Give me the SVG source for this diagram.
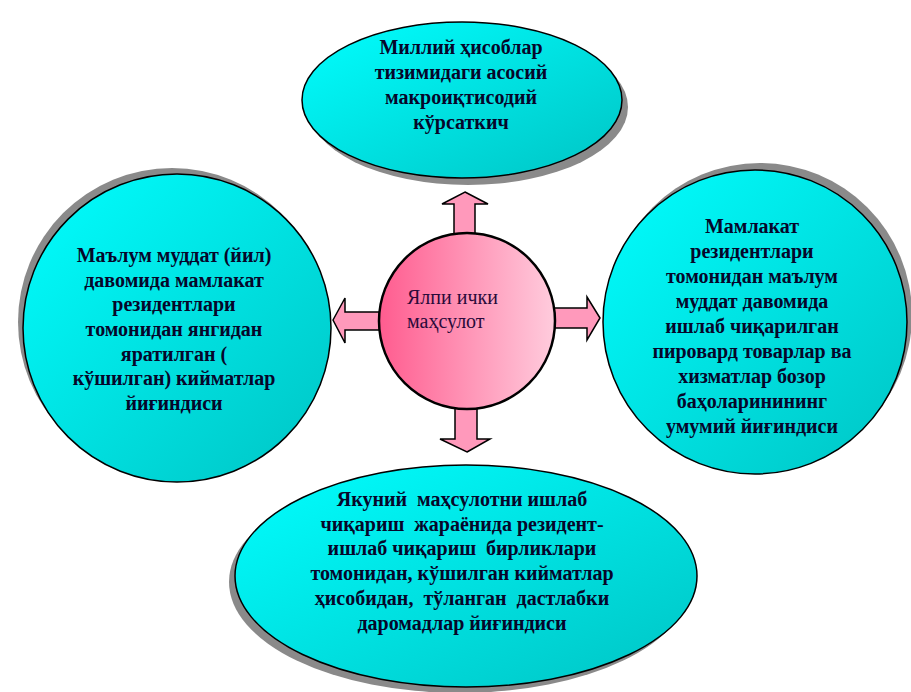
<svg xmlns="http://www.w3.org/2000/svg" width="911" height="692" viewBox="0 0 911 692">
<defs>
<linearGradient id="cyan" x1="0" y1="0" x2="1" y2="1">
<stop offset="0" stop-color="#00FFFF"/>
<stop offset="1" stop-color="#00C4C4"/>
</linearGradient>
<linearGradient id="pink" x1="0" y1="0" x2="1" y2="0">
<stop offset="0" stop-color="#FF5C8F"/>
<stop offset="1" stop-color="#FFCCDD"/>
</linearGradient>
</defs>
<style>
.sh{fill:#8a8a8a}
.node{fill:url(#cyan);stroke:#000;stroke-width:1.5}
.t{font-family:"Liberation Serif","Times New Roman",serif;font-weight:bold;font-size:20px;fill:#06062a;text-anchor:middle}
.c{font-family:"Liberation Serif","Times New Roman",serif;font-size:20px;fill:#2a0a3a}
.arr{fill:#FF99BB;stroke:#000;stroke-width:1.5;stroke-linejoin:miter}
</style>
<rect width="911" height="692" fill="#fff"/>

<g id="top">
<ellipse class="sh" cx="468" cy="107" rx="160" ry="78"/>
<ellipse class="node" cx="462" cy="100" rx="160" ry="78"/>
<text class="t" x="461" y="54">Миллий ҳисоблар</text>
<text class="t" x="461" y="79">тизимидаги асосий</text>
<text class="t" x="461" y="104">макроиқтисодий</text>
<text class="t" x="461" y="129">кўрсаткич</text>
</g>

<g id="left">
<circle class="sh" cx="172" cy="322" r="154"/>
<circle class="node" cx="177" cy="328" r="154"/>
<text class="t" x="174" y="262">Маълум муддат (йил)</text>
<text class="t" x="174" y="287">давомида мамлакат</text>
<text class="t" x="174" y="311">резидентлари</text>
<text class="t" x="174" y="336">томонидан янгидан</text>
<text class="t" x="174" y="361">яратилган (</text>
<text class="t" x="174" y="385">кўшилган) кийматлар</text>
<text class="t" x="174" y="410">йиғиндиси</text>
</g>

<g id="right">
<circle class="sh" cx="760" cy="315" r="152"/>
<circle class="node" cx="755" cy="322" r="152"/>
<text class="t" x="752" y="233">Мамлакат</text>
<text class="t" x="752" y="258">резидентлари</text>
<text class="t" x="752" y="283">томонидан маълум</text>
<text class="t" x="752" y="308">муддат давомида</text>
<text class="t" x="752" y="333">ишлаб чиқарилган</text>
<text class="t" x="752" y="358">пировард товарлар ва</text>
<text class="t" x="752" y="383">хизматлар бозор</text>
<text class="t" x="752" y="408">баҳоларинининг</text>
<text class="t" x="752" y="433">умумий йиғиндиси</text>
</g>

<g id="bottom">
<ellipse class="sh" cx="460" cy="582" rx="231" ry="111"/>
<ellipse class="node" cx="466" cy="576" rx="231" ry="111"/>
<text class="t" x="462" y="506" xml:space="preserve">Якуний  маҳсулотни ишлаб</text>
<text class="t" x="462" y="531" xml:space="preserve">чиқариш  жараёнида резидент-</text>
<text class="t" x="462" y="555" xml:space="preserve">ишлаб чиқариш  бирликлари</text>
<text class="t" x="462" y="580">томонидан, кўшилган кийматлар</text>
<text class="t" x="462" y="605" xml:space="preserve">ҳисобидан,  тўланган  дастлабки</text>
<text class="t" x="462" y="630">даромадлар йиғиндиси</text>
</g>

<g id="connectors">
<polygon class="arr" points="465,192 488,204 475,204 475,238 454,238 454,204 442,204"/>
<polygon class="arr" points="467,452 490,439 477,439 477,405 455,405 455,439 440,439"/>
<polygon class="arr" points="333,320 345,298 345,312 381,312 381,330 345,330 345,343"/>
<polygon class="arr" points="600,318 587,297 587,308 552,308 552,328 587,328 587,340"/>
</g>

<g id="center">
<circle cx="467" cy="321" r="88" fill="url(#pink)" stroke="#000" stroke-width="2.5"/>
<text class="c" x="407" y="304">Ялпи ички</text>
<text class="c" x="407" y="328">маҳсулот</text>
</g>
</svg>
